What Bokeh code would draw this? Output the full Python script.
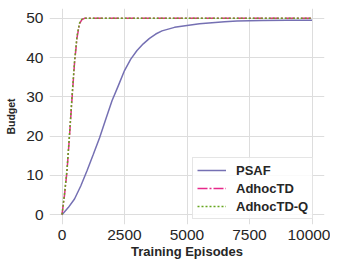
from bokeh.plotting import figure
from bokeh.models import FixedTicker, Legend, LegendItem, Range1d
from bokeh.embed import file_html
from bokeh.resources import INLINE

# ---- data ----
psaf_x = [0, 250, 500, 750, 1000, 1250, 1500, 1750, 2000, 2250, 2500, 2750, 3000,
          3250, 3500, 3750, 4000, 4500, 5000, 5500, 6000, 6500, 7000, 7500, 8000,
          9000, 10000]
psaf_y = [0, 1.8, 4.0, 7.3, 11.2, 15.3, 19.5, 24.3, 29.0, 32.8, 36.7, 39.6, 41.8,
          43.5, 44.9, 46.0, 46.8, 47.7, 48.2, 48.6, 48.9, 49.1, 49.3, 49.4, 49.45,
          49.5, 49.5]

adhoc_x = [0, 100, 200, 300, 400, 500, 600, 700, 800, 900, 1000, 2000, 4000, 6000,
           8000, 10000]
adhoc_y = [0, 5.0, 11.0, 20.0, 29.5, 38.5, 45.0, 48.6, 49.7, 50, 50, 50, 50, 50, 50, 50]

adhocq_x = [0, 100, 200, 300, 400, 500, 600, 700, 800, 900, 1000, 2000, 4000, 6000,
            8000, 10000]
adhocq_y = [0, 5.3, 11.5, 20.5, 30.0, 39.0, 45.5, 48.8, 49.8, 50, 50, 50, 50, 50, 50, 50]

x_ticks = [0, 2500, 5000, 7500, 10000]
y_ticks = [0, 10, 20, 30, 40, 50]

TXT = "#262626"
FONT = "Liberation Sans"

p = figure(width=330, height=261, output_backend="svg",
           toolbar_location=None,
           x_range=Range1d(-500, 10500), y_range=Range1d(-2.5, 52.5),
           min_border_left=49, min_border_right=6, min_border_top=8,
           min_border_bottom=37)
p.outline_line_color = None
p.background_fill_color = "white"

r1 = p.line(psaf_x, psaf_y, line_color="#7570b3", line_width=1.5)
r2 = p.line(adhoc_x, adhoc_y, line_color="#e7298a", line_width=1.5,
            line_dash="10 2 2 2")
r3 = p.line(adhocq_x, adhocq_y, line_color="#66a61e", line_width=1.5,
            line_dash="2 2")

for ax, ticks in ((p.xaxis[0], x_ticks), (p.yaxis[0], y_ticks)):
    ax.ticker = FixedTicker(ticks=ticks)
    ax.axis_line_color = None
    ax.major_tick_line_color = None
    ax.minor_tick_line_color = None
    ax.major_tick_out = 0
    ax.major_tick_in = 0
    ax.major_label_text_font = FONT
    ax.major_label_text_font_size = "15.5px"
    ax.major_label_text_color = TXT
    ax.axis_label_text_font = FONT
    ax.axis_label_text_font_style = "bold"
    ax.axis_label_text_color = TXT

p.xaxis.axis_label = "Training Episodes"
p.xaxis.axis_label_text_font_size = "13px"
p.xaxis.major_label_standoff = 5
p.xaxis.axis_label_standoff = 1
p.yaxis.axis_label = "Budget"
p.yaxis.axis_label_text_font_size = "10.5px"
p.yaxis.major_label_standoff = 6
p.yaxis.axis_label_standoff = 6

p.xgrid.ticker = FixedTicker(ticks=x_ticks)
p.ygrid.ticker = FixedTicker(ticks=y_ticks)
for g in (p.xgrid[0], p.ygrid[0]):
    g.grid_line_color = "#dddddd"
    g.grid_line_width = 1

legend = Legend(items=[LegendItem(label="PSAF", renderers=[r1]),
                       LegendItem(label="AdhocTD", renderers=[r2]),
                       LegendItem(label="AdhocTD-Q", renderers=[r3])],
                location=(143, 5))
legend.label_text_font = FONT
legend.label_text_font_style = "bold"
legend.label_text_font_size = "13px"
legend.label_text_color = TXT
legend.glyph_width = 29
legend.glyph_height = 16
legend.label_standoff = 10
legend.spacing = 2
legend.padding = 4
legend.margin = 0
legend.border_line_color = "#cccccc"
legend.border_line_width = 1
legend.background_fill_color = "white"
legend.background_fill_alpha = 0.85
p.add_layout(legend, "center")

open("out.html", "w").write(file_html(p, INLINE))
